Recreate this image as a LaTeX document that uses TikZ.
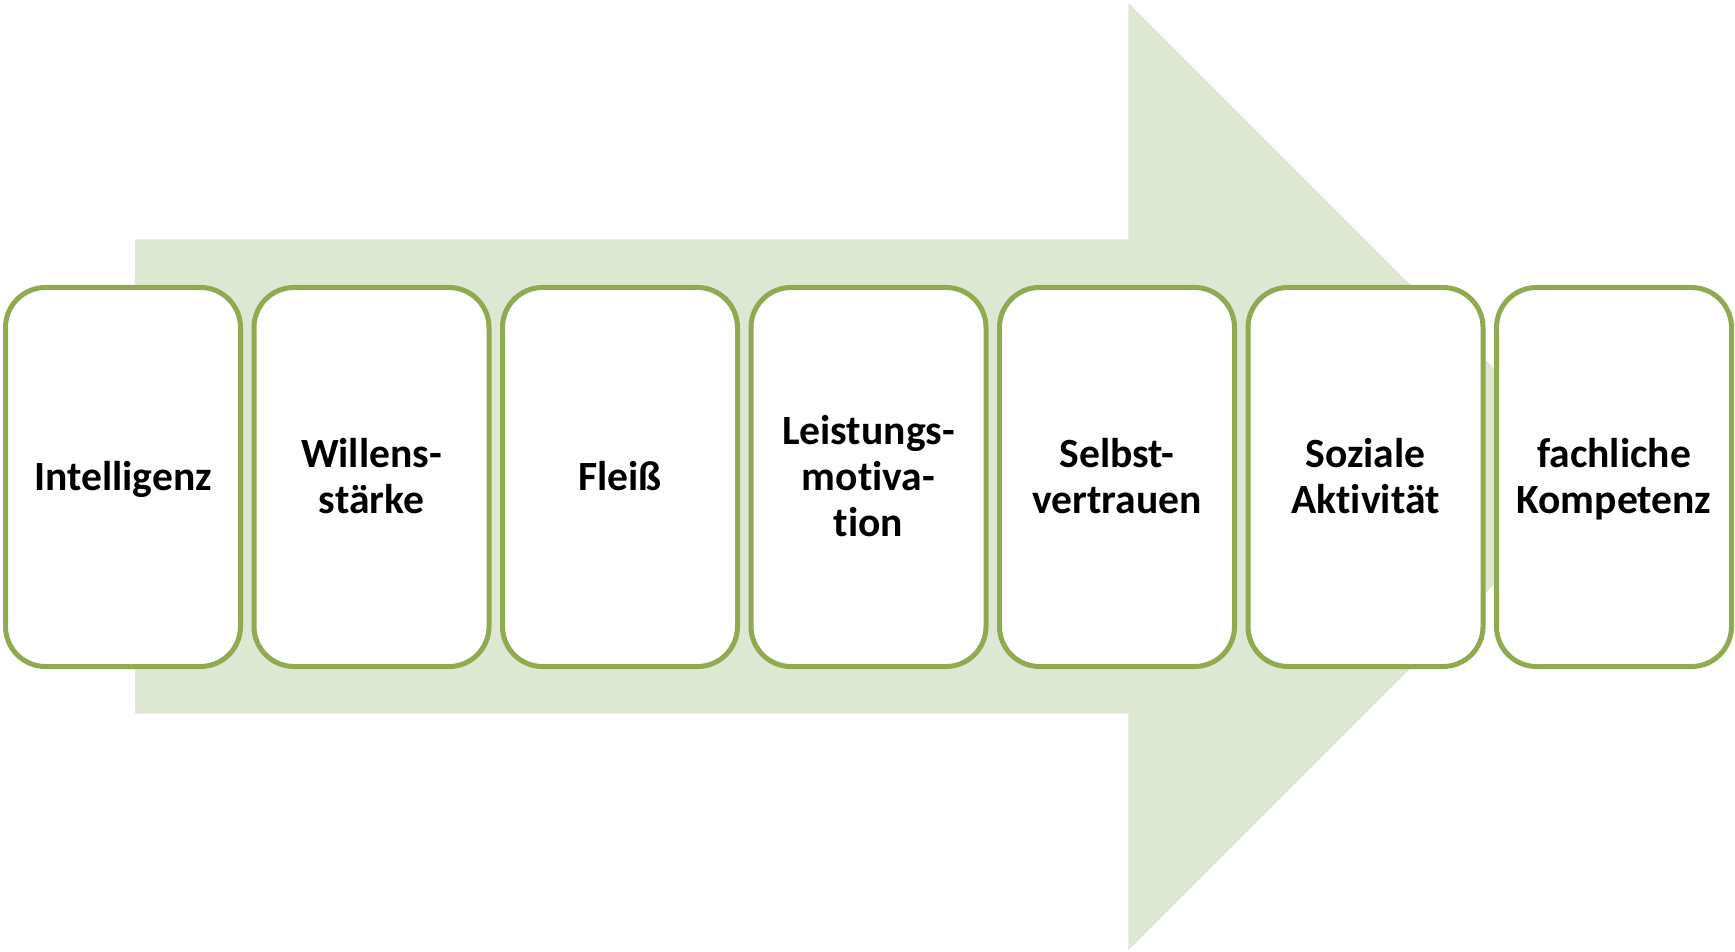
\documentclass[tikz,border=0pt]{standalone}
\usepackage{fontspec}
\setmainfont{Carlito}[Ligatures=NoCommon]
\definecolor{arrowfill}{HTML}{DEE7D1}
\definecolor{boxline}{HTML}{8FAA51}
\newcommand\stagestrut{\rule[-4.85pt]{0pt}{23.2pt}}
\begin{document}
\begin{tikzpicture}[x=0.5pt,y=-0.5pt,
  stage/.style={draw=boxline, line width=2.5pt, fill=white, rounded corners=20pt,
    minimum width=117.5pt, minimum height=189.5pt, inner sep=0pt, align=center,
    font=\fontsize{20.8pt}{23.2pt}\selectfont\bfseries}]
\useasboundingbox (0,0) rectangle (1735,952);
\fill[arrowfill] (135,239.3) -- (1128.3,239.3) -- (1128.3,2.7) -- (1602,476.5)
  -- (1128.3,950.3) -- (1128.3,713.7) -- (135,713.7) -- cycle;
\node[stage] (b1) at (123,477) {\stagestrut Intelligenz};
\node[stage] (b2) at (371.5,477) {\stagestrut Willens-\\\stagestrut stärke};
\node[stage] (b3) at (620,477) {\stagestrut Fleiß};
\node[stage] (b4) at (868.5,477) {\stagestrut Leistungs-\\\stagestrut motiva-\\\stagestrut tion};
\node[stage] (b5) at (1117,477) {\stagestrut Selbst-\\\stagestrut vertrauen};
\node[stage] (b6) at (1365.5,477) {\stagestrut Soziale\\\stagestrut Aktivität};
\node[stage] (b7) at (1614,477) {\stagestrut fachliche\\\stagestrut Kompetenz};
\end{tikzpicture}
\end{document}
